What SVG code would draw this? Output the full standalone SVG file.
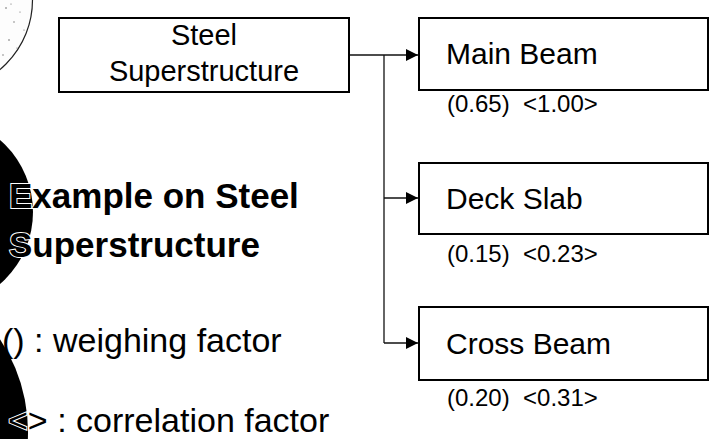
<svg xmlns="http://www.w3.org/2000/svg" width="715" height="439" viewBox="0 0 715 439">
  <style>
    .box { fill: #fff; stroke: #000; stroke-width: 2; }
    .conn { fill: none; stroke: #111; stroke-width: 1.3; }
    text { font-family: "Liberation Sans", Arial, sans-serif; fill: #000; }
    .node { font-size: 30px; }
    .root { font-size: 29px; text-anchor: middle; }
    .val { font-size: 24px; }
    .title { font-size: 35px; font-weight: bold; }
    .legend { font-size: 34px; }
    .halo { stroke: #fff; stroke-width: 2; paint-order: stroke; }
  </style>
  <defs>
    <marker id="arrow" markerWidth="13" markerHeight="13" refX="12" refY="6.5" orient="auto" markerUnits="userSpaceOnUse">
      <path d="M0,0.5 L12,6.5 L0,12.5 Z" fill="#000"/>
    </marker>
  </defs>
  <rect width="715" height="439" fill="#fff"/>

  <!-- decorative discs on the left edge -->
  <g id="decor">
    <circle cx="-58" cy="0" r="90.5" fill="#fdfdfd" stroke="#222" stroke-width="1.2"/>
    <g fill="#666">
      <circle cx="6" cy="8" r="0.8"/><circle cx="14" cy="22" r="0.7"/><circle cx="9" cy="40" r="0.8"/>
      <circle cx="20" cy="12" r="0.6"/><circle cx="3" cy="55" r="0.7"/><circle cx="24" cy="30" r="0.6"/>
      <circle cx="11" cy="4" r="0.6"/><circle cx="17" cy="48" r="0.6"/>
    </g>
    <circle cx="-62" cy="212" r="95" fill="#000"/>
    <circle cx="-140" cy="432" r="168" fill="#000"/>
  </g>

  <g id="connectors">
    <path class="conn" d="M349,55 H418" marker-end="url(#arrow)"/>
    <path class="conn" d="M384,55 V343"/>
    <path class="conn" d="M384,198 H418" marker-end="url(#arrow)"/>
    <path class="conn" d="M384,343 H418" marker-end="url(#arrow)"/>
  </g>

  <g id="steel-superstructure">
    <rect class="box" x="59" y="18" width="290" height="74"/>
    <text class="root" x="204" y="45">Steel</text>
    <text class="root" x="204" y="81">Superstructure</text>
  </g>

  <g id="main-beam">
    <rect class="box" x="419" y="18" width="289" height="72"/>
    <text class="node" x="446" y="64">Main Beam</text>
    <text class="val" x="447" y="112" xml:space="preserve">(0.65)  &lt;1.00&gt;</text>
  </g>

  <g id="deck-slab">
    <rect class="box" x="419" y="163" width="289" height="71"/>
    <text class="node" x="446" y="209">Deck Slab</text>
    <text class="val" x="447" y="262" xml:space="preserve">(0.15)  &lt;0.23&gt;</text>
  </g>

  <g id="cross-beam">
    <rect class="box" x="419" y="307" width="289" height="73"/>
    <text class="node" x="446" y="354">Cross Beam</text>
    <text class="val" x="447" y="406" xml:space="preserve">(0.20)  &lt;0.31&gt;</text>
  </g>

  <g id="legend">
    <text class="title halo" x="9" y="208">Example on Steel</text>
    <text class="title halo" x="9" y="257">Superstructure</text>
    <text class="legend" x="2" y="352">() : weighing factor</text>
    <text class="legend" x="8" y="432"><tspan class="halo" stroke-width="2.5">&lt;&gt;</tspan> : correlation factor</text>
  </g>
</svg>
